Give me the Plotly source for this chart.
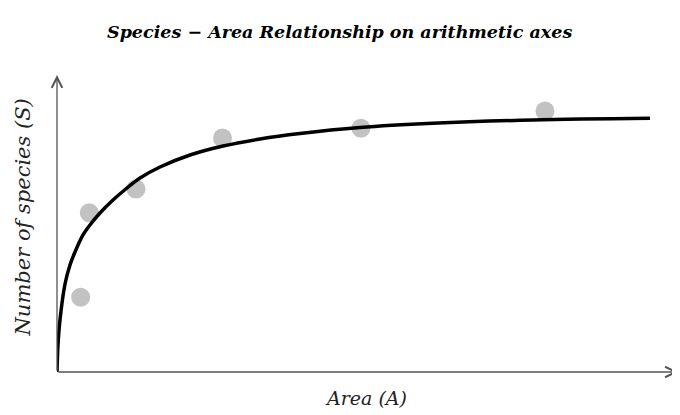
import plotly.graph_objects as go

# Observed data points (Area, Species) in arbitrary units
obs_area = [3.81, 5.20, 12.72, 26.65, 48.95, 78.58]
obs_species = [25.2, 53.6, 61.6, 78.8, 82.1, 87.9]

# Fitted curve
curve_area = [0, 0.16, 0.48, 1.29, 2.09, 2.90, 4.19, 5.31, 6.92, 9.02, 11.27, 13.37,
              16.59, 21.42, 26.73, 32.69, 39.13, 48.79, 60.55, 76.65, 95.49]
curve_species = [0, 9.09, 17.51, 29.63, 36.03, 40.40, 46.13, 49.49, 53.54, 57.91, 61.95, 65.32,
                 69.02, 73.06, 76.09, 78.45, 80.30, 82.32, 83.74, 84.85, 85.42]

title_text = "Species − Area Relationship on arithmetic axes"
x_title = "Area (A)"
y_title = "Number of species (S)"

fig = go.Figure()
fig.add_trace(go.Scatter(x=obs_area, y=obs_species, mode="markers",
                         marker=dict(size=19, color="#c2c2c2", line=dict(width=0)),
                         showlegend=False, cliponaxis=False))
fig.add_trace(go.Scatter(x=curve_area, y=curve_species, mode="lines",
                         line=dict(color="black", width=3.5, shape="spline", smoothing=1.0),
                         showlegend=False, cliponaxis=False))

axis_col = "#555555"
fig.update_layout(
    width=672, height=407,
    margin=dict(l=49, r=2, t=67, b=43),
    paper_bgcolor="white", plot_bgcolor="white",
    xaxis=dict(range=[0, 100], visible=False),
    yaxis=dict(range=[0, 100], visible=False),
    annotations=[
        dict(x=0, y=100, ax=0, ay=0, xref="x", yref="y", axref="x", ayref="y",
             showarrow=True, arrowhead=5, arrowsize=1.6, arrowwidth=1.3,
             arrowcolor=axis_col, text=""),
        dict(x=100, y=0, ax=0, ay=0, xref="x", yref="y", axref="x", ayref="y",
             showarrow=True, arrowhead=5, arrowsize=1.6, arrowwidth=1.3,
             arrowcolor=axis_col, text=""),
        dict(x=0.5, y=1.0, xref="paper", yref="paper", xanchor="center", yanchor="middle",
             xshift=-28, yshift=43, showarrow=False,
             text="<b><i>" + title_text + "</i></b>",
             font=dict(family="DejaVu Serif", size=17.5, color="black")),
        dict(x=0.5, y=0, xref="paper", yref="paper", xanchor="center", yanchor="middle",
             xshift=-2, yshift=-26, showarrow=False, text="<i>" + x_title + "</i>",
             font=dict(family="DejaVu Serif", size=19, color="#222222")),
        dict(x=0, y=0.5, xref="paper", yref="paper", xanchor="center", yanchor="middle",
             xshift=-35, yshift=6, textangle=-90, showarrow=False,
             text="<i>" + y_title + "</i>",
             font=dict(family="DejaVu Serif", size=21, color="#222222")),
    ],
)
fig.write_html("out.html")
